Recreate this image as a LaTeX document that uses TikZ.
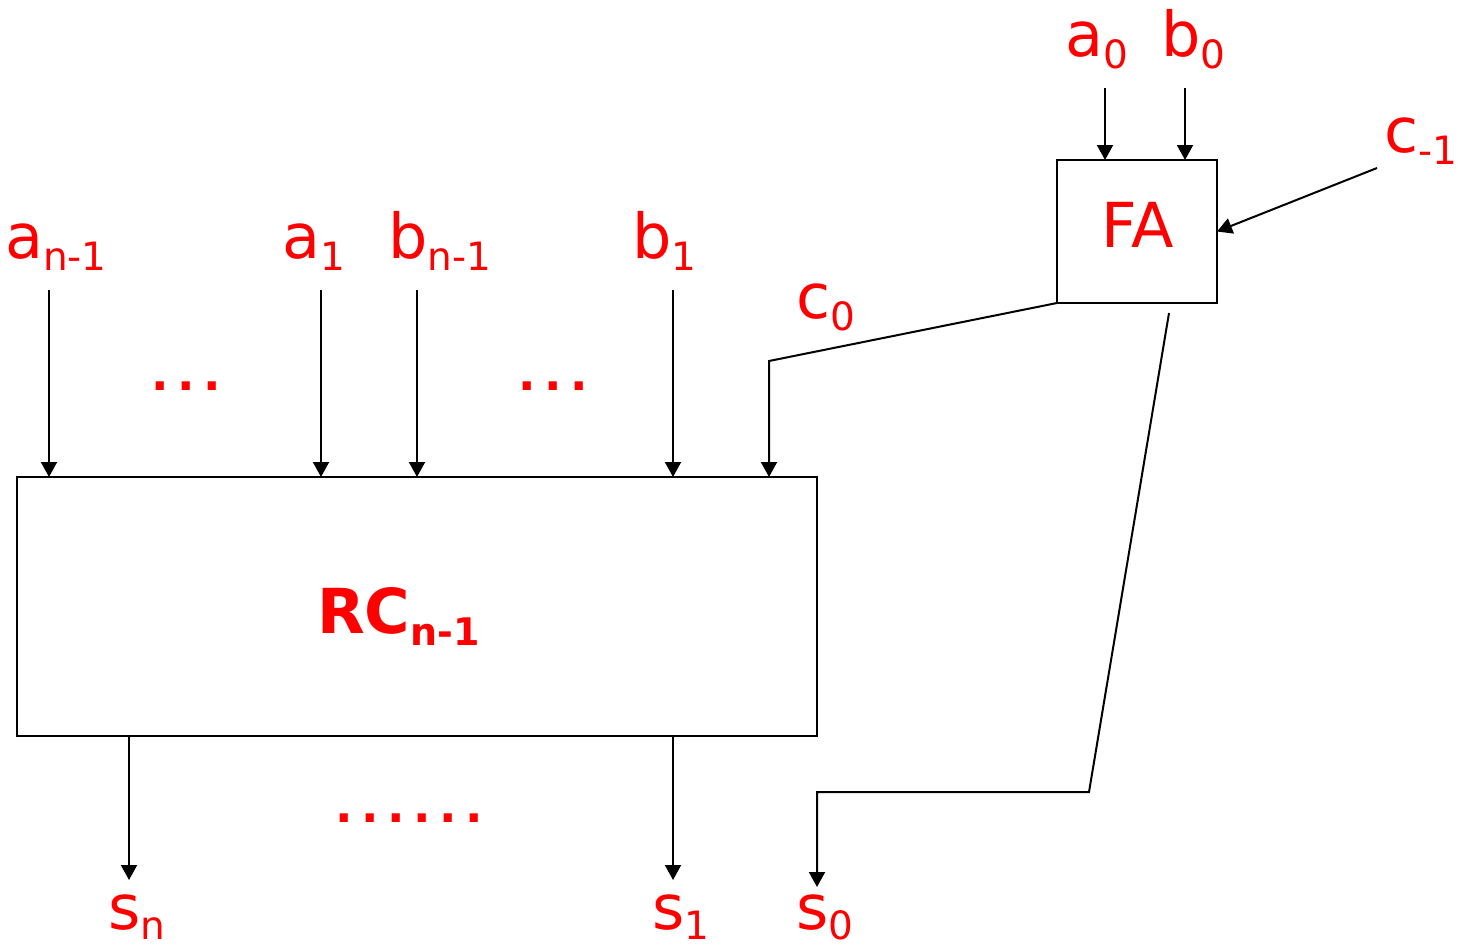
\documentclass[tikz,border=0pt]{standalone}
\usepackage{fontspec}
\setmainfont{DejaVu Sans}
\usetikzlibrary{arrows.meta}
\newcommand{\lab}[2]{#1\raisebox{-12bp}{\fontsize{39bp}{39bp}\selectfont #2}}
\newcommand{\slab}[2]{#1\raisebox{-10bp}{\fontsize{39bp}{39bp}\selectfont #2}}
\newcommand{\blab}[2]{#1\raisebox{-12bp}{\fontsize{38bp}{38bp}\selectfont\bfseries #2}}
\begin{document}
\begin{tikzpicture}[x=1bp,y=-1bp,
  lbl/.style={text=red,inner sep=0,anchor=base west,font=\fontsize{62bp}{62bp}\selectfont},
  dots/.style={text=red,inner sep=0,anchor=base west,font=\fontsize{46bp}{46bp}\selectfont\bfseries},
  wire/.style={line width=2bp},
  arr/.style={wire,-{Triangle[length=15bp,width=16bp]}},
  box/.style={draw,line width=2bp,inner sep=0,outer sep=0}]
\useasboundingbox (0,0) rectangle (1458,949);
% boxes
\node[box,minimum width=800bp,minimum height=259bp] (rc) at (417,606.5) {};
\node[box,minimum width=160bp,minimum height=143bp] (fa) at (1137,231.5) {};
% texts
\node[lbl] (lan) at (5,258) {\lab{a}{n-1}};
\node[lbl] (la1) at (282,258) {\lab{a}{1}};
\node[lbl] (lbn) at (388,258) {\lab{b}{n-1}};
\node[lbl] (lb1) at (632,258) {\lab{b}{1}};
\node[lbl] (lc0) at (796,318) {\lab{c}{0}};
\node[lbl] (la0) at (1065,56) {\lab{a}{0}};
\node[lbl] (lb0) at (1161,56) {\lab{b}{0}};
\node[lbl] (lcm) at (1384,152) {\lab{c}{-1}};
\node[lbl] (lfa) at (1101,247) {FA};
\node[lbl,font=\fontsize{62bp}{62bp}\selectfont\bfseries] (lrc) at (317,633) {\blab{RC}{n-1}};
\node[lbl] (lsn) at (108,929) {\slab{s}{n}};
\node[lbl] (ls1) at (652,929) {\slab{s}{1}};
\node[lbl] (ls0) at (796,929) {\slab{s}{0}};
\node[dots] (d1) at (151,390) {.\kern8.5bp.\kern8.5bp.};
\node[dots] (d2) at (518,390) {.\kern8.5bp.\kern8.5bp.};
\node[dots] (d3) at (335,822) {.\kern8.5bp.\kern8.5bp.\kern8.5bp.\kern8.5bp.\kern8.5bp.};
% input points
\coordinate (ian) at (49,290);
\coordinate (ia1) at (321,290);
\coordinate (ibn) at (417,290);
\coordinate (ib1) at (673,290);
\coordinate (c0b) at (769,361);
\coordinate (ia0) at (1105,88);
\coordinate (ib0) at (1185,88);
\coordinate (icm) at (1377,168);
\coordinate (s0a) at (1169,313);
\coordinate (s0b) at (1089,792);
\coordinate (s0c) at (817,792);
\coordinate (os0) at (817,887);
\coordinate (osn) at (129,880);
\coordinate (os1) at (673,880);
% connectors
\draw[arr] (ian) -- (ian |- rc.north);
\draw[arr] (ia1) -- (ia1 |- rc.north);
\draw[arr] (ibn) -- (ibn |- rc.north);
\draw[arr] (ib1) -- (ib1 |- rc.north);
\draw[arr] (fa.south west) -- (c0b) -- (c0b |- rc.north);
\draw[arr] (ia0) -- (ia0 |- fa.north);
\draw[arr] (ib0) -- (ib0 |- fa.north);
\draw[arr] (icm) -- (fa.east);
\draw[arr] (s0a) -- (s0b) -- (s0c) -- (os0);
\draw[arr] (osn |- rc.south) -- (osn);
\draw[arr] (os1 |- rc.south) -- (os1);
\end{tikzpicture}
\end{document}
